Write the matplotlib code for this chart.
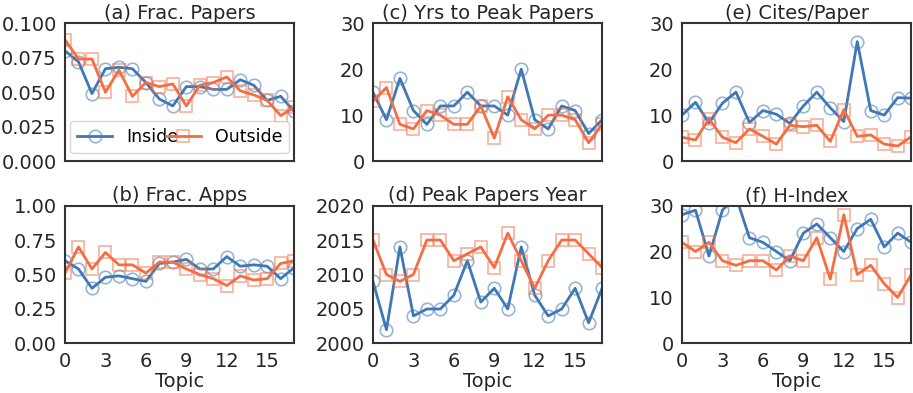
import numpy as np
import matplotlib.pyplot as plt

topics = np.arange(18)

frac_papers_in = [0.080, 0.072, 0.049, 0.067, 0.068, 0.067, 0.057, 0.045, 0.040, 0.054,
                  0.054, 0.052, 0.052, 0.059, 0.055, 0.044, 0.047, 0.036]
frac_papers_out = [0.088, 0.074, 0.074, 0.050, 0.066, 0.047, 0.057, 0.054, 0.056, 0.040,
                   0.055, 0.057, 0.061, 0.051, 0.048, 0.044, 0.033, 0.039]

frac_apps_in = [0.60, 0.54, 0.40, 0.48, 0.49, 0.47, 0.45, 0.58, 0.59, 0.61,
                0.54, 0.54, 0.63, 0.56, 0.57, 0.56, 0.47, 0.55]
frac_apps_out = [0.51, 0.70, 0.54, 0.66, 0.57, 0.57, 0.51, 0.59, 0.59, 0.54,
                 0.50, 0.47, 0.42, 0.49, 0.46, 0.47, 0.58, 0.60]

yrs_peak_in = [15, 9, 18, 11, 8, 12, 12, 15, 12, 12, 10, 20, 9, 7, 12, 11, 6, 9]
yrs_peak_out = [13, 16, 8, 7, 11, 10, 8, 8, 12, 5, 14, 9, 7, 10, 10, 9, 4, 8]

peak_year_in = [2009, 2002, 2014, 2004, 2005, 2005, 2007, 2012, 2006, 2008,
                2005, 2014, 2007, 2004, 2005, 2008, 2003, 2008]
peak_year_out = [2015, 2010, 2009, 2010, 2015, 2015, 2012, 2013, 2014, 2011,
                 2016, 2012, 2008, 2012, 2015, 2015, 2013, 2011]

cites_in = [10, 12.8, 8.3, 12.6, 15, 8.4, 11, 10.2, 8.2, 12, 15, 11.6, 8.6, 26,
            11, 10, 13.8, 13.7]
cites_out = [5.2, 4.6, 9.2, 5.2, 4, 7, 5.4, 3.7, 7.8, 7.5, 7.8, 4.3, 11.2, 5.4,
             5.7, 3.7, 3.3, 5.3]

hindex_in = [28, 29, 19, 29, 32, 23, 22, 20, 18, 24, 26, 23, 20, 25, 27, 21, 24, 22]
hindex_out = [22, 20, 22, 18, 17, 18, 18, 16, 19, 18, 23, 14, 28, 15, 17, 13, 10, 15]

titles = ["(a) Frac. Papers", "(c) Yrs to Peak Papers", "(e) Cites/Paper",
          "(b) Frac. Apps", "(d) Peak Papers Year", "(f) H-Index"]
series = [(frac_papers_in, frac_papers_out), (yrs_peak_in, yrs_peak_out),
          (cites_in, cites_out), (frac_apps_in, frac_apps_out),
          (peak_year_in, peak_year_out), (hindex_in, hindex_out)]
ylims = [(0, 0.1), (0, 30), (0, 30), (0, 1.0), (2000, 2020), (0, 30)]
yticks = [[0, 0.025, 0.05, 0.075, 0.1], [0, 10, 20, 30], [0, 10, 20, 30],
          [0, 0.25, 0.5, 0.75, 1.0], [2000, 2005, 2010, 2015, 2020], [0, 10, 20, 30]]
yfmt = ["%.3f", "%d", "%d", "%.2f", "%d", "%d"]

blue = "#3f78b5"
orange = "#f46d43"

plt.rcParams['font.family'] = ['DejaVu Sans']
fig = plt.figure(figsize=(9.13, 3.93), dpi=100)

lefts = [0.0712, 0.4085, 0.747]
bottoms = [0.590, 0.126]
w, h = 0.251, 0.351

for i in range(6):
    row, col = i // 3, i % 3
    ax = fig.add_axes([lefts[col], bottoms[row], w, h])
    y_in, y_out = series[i]
    ax.plot(topics, y_in, color=blue, lw=2, label="Inside",
            marker="o", ms=9, mfc="none", mec=(0.25, 0.47, 0.71, 0.55), mew=1.2)
    ax.plot(topics, y_out, color=orange, lw=2, label="Outside",
            marker="s", ms=9, mfc="none", mec=(0.96, 0.43, 0.26, 0.55), mew=1.2)
    ax.set_xlim(0, 17)
    ax.set_ylim(*ylims[i])
    ax.set_yticks(yticks[i])
    ax.set_yticklabels([yfmt[i] % v for v in yticks[i]])
    ax.set_title(titles[i], fontsize=14, color="0.15", pad=3)
    for s in ax.spines.values():
        s.set_color("0.2")
        s.set_linewidth(1.5)
    ax.tick_params(labelsize=14, colors="0.15", length=0, pad=6)
    if row == 1:
        ax.set_xticks([0, 3, 6, 9, 12, 15])
        ax.set_xlabel("Topic", fontsize=14, color="0.15", labelpad=1)
    else:
        ax.set_xticks([])
    if i == 0:
        ax.legend(loc="lower left", ncol=2, fontsize=12.5, frameon=True,
                  handlelength=2, columnspacing=2.2, borderaxespad=0.3,
                  bbox_to_anchor=(0, 0.02, 1, 0.3), mode="expand")

plt.savefig("out.png", dpi=100)
